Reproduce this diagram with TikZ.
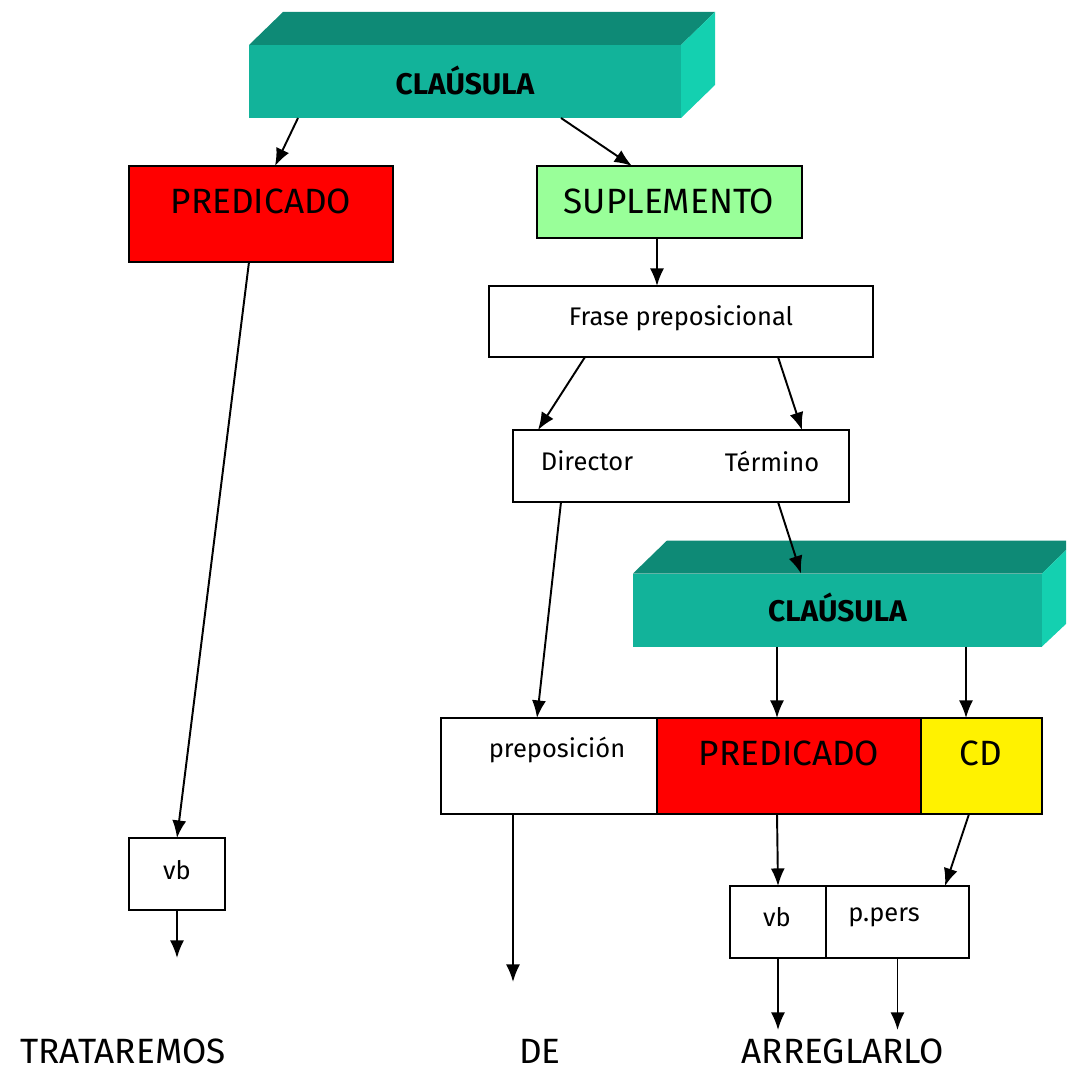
\documentclass[tikz,border=0pt]{standalone}
\usepackage{fontspec}
\setmainfont{Fira Sans}
\usepackage{tikz}
\usetikzlibrary{calc}
\usetikzlibrary{positioning}
\usetikzlibrary{arrows.meta}
\newlength\pxl
\setlength\pxl{0.02cm}
\definecolor{claufront}{RGB}{18,179,154}
\definecolor{claudark}{RGB}{14,138,118}
\definecolor{claulight}{RGB}{20,208,176}
\definecolor{suplgreen}{RGB}{153,255,153}
\tikzstyle{block} = [draw, rectangle, line width=1.1pt, inner sep=0pt, outer sep=0pt]
\tikzstyle{clau} = [rectangle, fill=claufront, inner sep=0pt, outer sep=0pt,
    minimum height=73\pxl]
\tikzstyle{big} = [font=\fontsize{20}{24}\selectfont]
\tikzstyle{word} = [big, inner sep=0pt]
\tikzstyle{small} = [font=\fontsize{14.5}{17}\selectfont]
\tikzstyle{title} = [font=\fontsize{17}{20}\selectfont\bfseries]
\tikzstyle{output} = [coordinate]

\begin{document}
\begin{tikzpicture}[x=0.02cm, y=-0.02cm, >={Latex[length=10pt,width=8pt]}, line width=1.1pt]
    \useasboundingbox (0,0) rectangle (1066,1070);
    \clip (0,0) rectangle (1066,1070);
    % upper clause
    \node [clau, minimum width=432\pxl] at (465,81.5) (clau1) {};
    \fill [claudark] (clau1.north west) -- ++(34,-33) -- ++(432,0) -- (clau1.north east) -- cycle;
    \fill [claulight] (clau1.north east) -- ++(34,-33) -- ++(0,73) -- (clau1.south east) -- cycle;
    \node [title] at (465,80) (tclau1) {CLAÚSULA};
    \node [block, fill=red, minimum width=264\pxl, minimum height=96\pxl] at (261,214) (pred1) {};
    \node [big] at (261,201) (tpred1) {PREDICADO};
    \node [block, fill=suplgreen, minimum width=265\pxl, minimum height=72\pxl] at (669.5,202) (supl) {};
    \node [big] at (669,201) (tsupl) {SUPLEMENTO};
    \node [block, minimum width=384\pxl, minimum height=71\pxl] at (681,321.5) (frase) {};
    \node [small] at (681,318) (tfrase) {Frase preposicional};
    \node [block, minimum width=336\pxl, minimum height=72\pxl] at (681,466) (dirterm) {};
    \node [small] at (587,461) (tdir) {Director};
    \node [small] at (772,461) (tterm) {Término};
    % lower clause
    \node [clau, minimum width=409\pxl] at (837.5,610) (clau2) {};
    \fill [claudark] (clau2.north west) -- ++(34,-33) -- ++(409,0) -- (clau2.north east) -- cycle;
    \fill [claulight] (clau2.north east) -- ++(34,-33) -- ++(0,74) -- (clau2.south east) -- cycle;
    \node [title] at (837.5,607) (tclau2) {CLAÚSULA};
    \node [block, minimum width=216\pxl, minimum height=96\pxl] at (549,766) (prep) {};
    \node [small] at (557,750) (tprep) {preposición};
    \node [block, fill=red, minimum width=264\pxl, minimum height=96\pxl] at (789,766) (pred2) {};
    \node [big] at (789,753) (tpred2) {PREDICADO};
    \node [block, fill=yellow, minimum width=121\pxl, minimum height=96\pxl] at (981.5,766) (cd) {};
    \node [big] at (981,753) (tcd) {CD};
    \node [block, minimum width=96\pxl, minimum height=72\pxl] at (177,874) (vb1) {};
    \node [small] at (177,870) (tvb1) {vb};
    \node [block, minimum width=96\pxl, minimum height=72\pxl] at (778,922) (vb2) {};
    \node [small] at (777,917) (tvb2) {vb};
    \node [block, minimum width=143\pxl, minimum height=72\pxl] at (897.5,922) (pers) {};
    \node [small] at (884,917) (tpers) {p.pers};
    \node [output, name=fin1] at (177,958) {};
    \node [output, name=fin2] at (513,982) {};
    \node [output, name=fin3] at (778,1030) {};
    \node [output, name=fin4] at (897.5,1030) {};
    % connectors
    \draw [->] ($(clau1.south west)+(49,0)$) -- ($(pred1.north west)+(146,0)$);
    \draw [->] ($(clau1.south west)+(312,0)$) -- ($(supl.north west)+(95,0)$);
    \draw [->] ($(supl.south west)+(120,0)$) -- ($(frase.north west)+(168,0)$);
    \draw [->] ($(frase.south west)+(96,0)$) -- ($(dirterm.north west)+(25,0)$);
    \draw [->] ($(frase.south west)+(289,0)$) -- ($(dirterm.north west)+(289,0)$);
    \draw [->] ($(dirterm.south west)+(48,0)$) -- ($(prep.north west)+(96,0)$);
    \draw [->] ($(dirterm.south west)+(265,0)$) -- ($(clau2.north west)+(168,0)$);
    \draw [->] ($(pred1.south west)+(120,0)$) -- (vb1.north);
    \draw [->] ($(clau2.south west)+(144,0)$) -- ($(pred2.north west)+(120,0)$);
    \draw [->] ($(clau2.south west)+(333,0)$) -- ($(cd.north west)+(45,0)$);
    \draw [->] (vb1) -- (fin1);
    \draw [->] ($(prep.south west)+(72,0)$) -- (fin2);
    \draw [->] ($(pred2.south west)+(120,0)$) -- (vb2.north);
    \draw [->] ($(cd.south west)+(48,0)$) -- ($(pers.north west)+(119,0)$);
    \draw [->] (vb2) -- (fin3);
    \draw [->] (pers) -- (fin4);
    % words
    \node [word] at (123,1051) (w1) {TRATAREMOS};
    \node [word] at (540,1051) (w2) {DE};
    \node [word] at (843,1051) (w3) {ARREGLARLO};
  \end{tikzpicture}
\end{document}
